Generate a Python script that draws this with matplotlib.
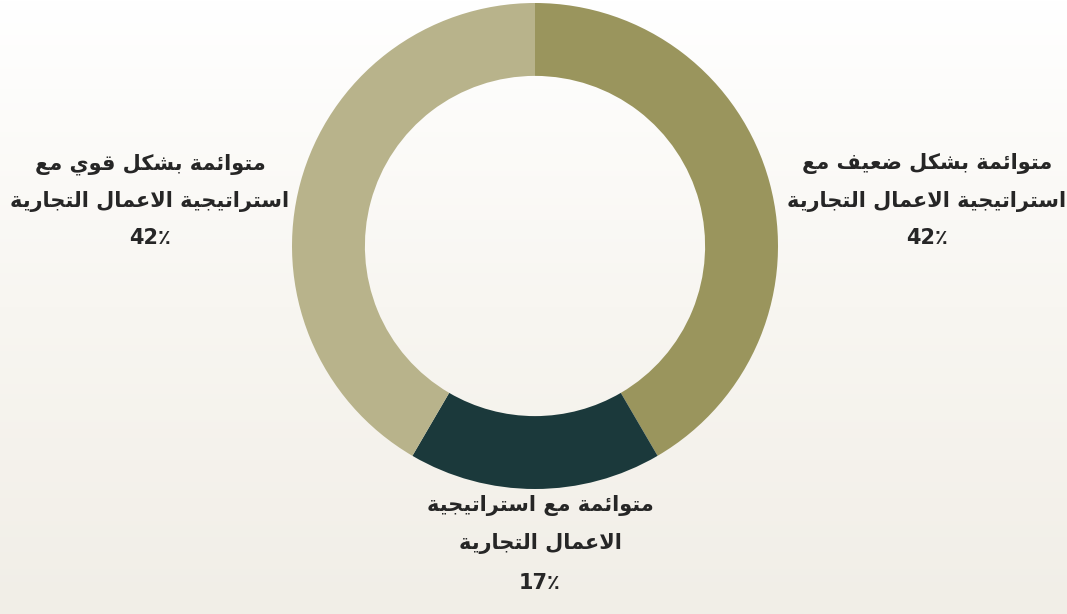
import numpy as np
import matplotlib
matplotlib.use("Agg")
import matplotlib.pyplot as plt
from matplotlib.colors import LinearSegmentedColormap

# values and labels (largest first, clockwise from the top)
shares = [42, 17, 42]
colors = ["#9a955d", "#1b393b", "#b8b38b"]
labels_right = ["متوائمة بشكل ضعيف مع", "استراتيجية الاعمال التجارية"]
labels_bottom = ["متوائمة مع استراتيجية", "الاعمال التجارية"]
labels_left = ["متوائمة بشكل قوي مع", "استراتيجية الاعمال التجارية"]
pct_labels = [f"{v}٪" for v in shares]

# --- minimal arabic shaping (no arabic_reshaper available) ---
# letter: (isolated, final, initial, medial); two entries -> right-joining only
FORMS = {
    "ا": (0xFE8D, 0xFE8E), "ة": (0xFE93, 0xFE94), "ر": (0xFEAD, 0xFEAE),
    "و": (0xFEED, 0xFEEE),
    "ئ": (0xFE89, 0xFE8A, 0xFE8B, 0xFE8C), "ب": (0xFE8F, 0xFE90, 0xFE91, 0xFE92),
    "ت": (0xFE95, 0xFE96, 0xFE97, 0xFE98), "ج": (0xFE9D, 0xFE9E, 0xFE9F, 0xFEA0),
    "س": (0xFEB1, 0xFEB2, 0xFEB3, 0xFEB4), "ش": (0xFEB5, 0xFEB6, 0xFEB7, 0xFEB8),
    "ض": (0xFEBD, 0xFEBE, 0xFEBF, 0xFEC0), "ع": (0xFEC9, 0xFECA, 0xFECB, 0xFECC),
    "ف": (0xFED1, 0xFED2, 0xFED3, 0xFED4), "ق": (0xFED5, 0xFED6, 0xFED7, 0xFED8),
    "ك": (0xFED9, 0xFEDA, 0xFEDB, 0xFEDC), "ل": (0xFEDD, 0xFEDE, 0xFEDF, 0xFEE0),
    "م": (0xFEE1, 0xFEE2, 0xFEE3, 0xFEE4), "ي": (0xFEF1, 0xFEF2, 0xFEF3, 0xFEF4),
}
LAM_ALEF = (0xFEFB, 0xFEFC)


def shape(text):
    # merge lam + alef into one ligature token
    toks = []
    i = 0
    while i < len(text):
        if text[i] == "ل" and i + 1 < len(text) and text[i + 1] == "ا":
            toks.append("LA")
            i += 2
        else:
            toks.append(text[i])
            i += 1

    def forms(t):
        return LAM_ALEF if t == "LA" else FORMS.get(t)

    out = []
    for k, t in enumerate(toks):
        f = forms(t)
        if f is None:
            out.append(t)
            continue
        prev = forms(toks[k - 1]) if k > 0 else None
        nxt = forms(toks[k + 1]) if k + 1 < len(toks) else None
        join_prev = prev is not None and len(prev) == 4
        join_next = len(f) == 4 and nxt is not None
        if join_prev and join_next:
            c = f[3]
        elif join_prev:
            c = f[1]
        elif join_next:
            c = f[2]
        else:
            c = f[0]
        out.append(chr(c))
    return "".join(out)[::-1]


W, H = 1067, 614
fig = plt.figure(figsize=(W / 100, H / 100), dpi=100)
ax = fig.add_axes([0, 0, 1, 1])
ax.set_xlim(0, W)
ax.set_ylim(0, H)
ax.axis("off")

# soft vertical background: white at the top, warm grey at the bottom
bg = LinearSegmentedColormap.from_list("bg", ["#f1eee7", "#f8f6f1", "#ffffff"])
grad = np.linspace(0, 1, 256).reshape(-1, 1)
ax.imshow(grad, extent=[0, W, 0, H], origin="lower", cmap=bg, aspect="auto", zorder=0)

cx, cy, R = 535, H - 246, 243
ax.pie(shares, colors=colors, startangle=90, counterclock=False,
       center=(cx, cy), radius=R, frame=True,
       wedgeprops=dict(width=R * 0.3, linewidth=0))
ax.set_xlim(0, W)
ax.set_ylim(0, H)
ax.set_aspect("auto")
ax.axis("off")

txt = dict(ha="center", va="center", fontsize=15, color="#262626",
           family=["DejaVu Sans"], fontweight="bold")


def block(x, y0, lines, pct, gap=37):
    for j, line in enumerate(lines):
        ax.text(x, H - (y0 + j * gap), shape(line), **txt)
    ax.text(x, H - (y0 + len(lines) * gap), pct, **txt)


block(927, 164, labels_right, pct_labels[0])
block(540, 505, labels_bottom, pct_labels[1], gap=39)
block(150, 164, labels_left, pct_labels[2])

fig.savefig("out.png", dpi=100)
